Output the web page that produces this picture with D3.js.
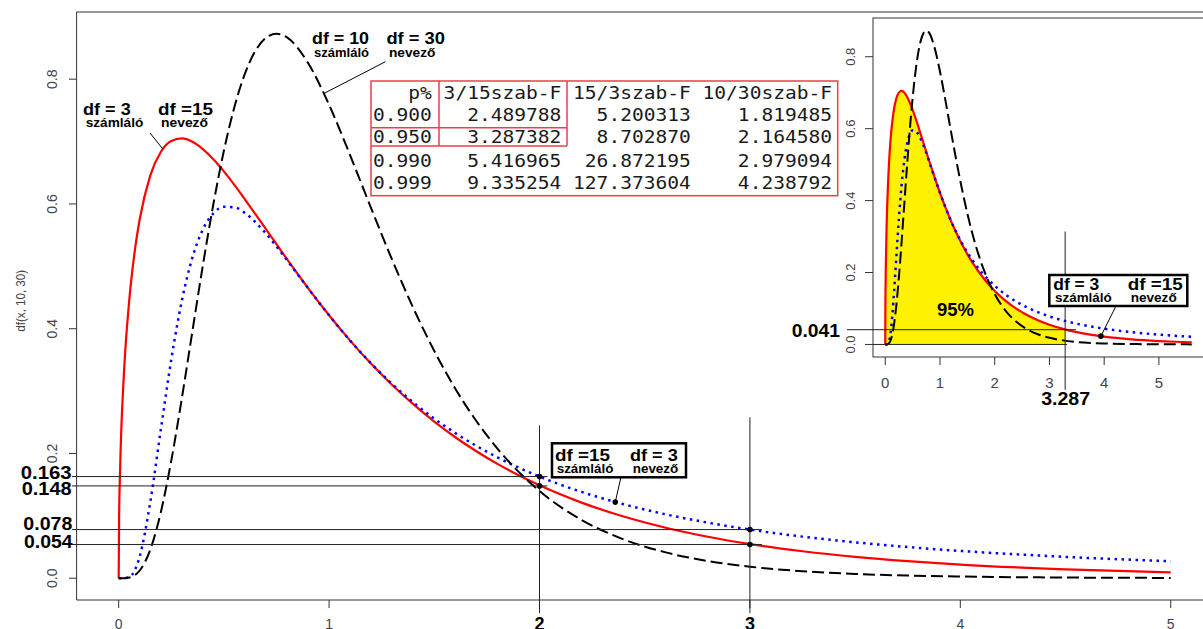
<!DOCTYPE html>
<html>
<head>
<meta charset="utf-8">
<script src="https://cdn.jsdelivr.net/npm/d3@7"></script>
<style>
  html, body { margin: 0; padding: 0; background: #fff; }
  svg { display: block; }
  .mono { white-space: pre; }
</style>
</head>
<body>
<svg id="chart" width="1203" height="629"></svg>
<script>
// F-eloszlások sűrűségfüggvényei: df(x, 3, 15), df(x, 15, 3), df(x, 10, 30)
const xValues = [0, 0.002, 0.005, 0.01, 0.025, 0.05, 0.075, 0.1, 0.15, 0.2, 0.25, 0.3, 0.35, 0.4, 0.45,
  0.5, 0.55, 0.6, 0.65, 0.7, 0.75, 0.8, 0.9, 1.0, 1.1, 1.2, 1.3, 1.4, 1.5, 1.6, 1.8, 2.0, 2.2, 2.4,
  2.6, 2.8, 3.0, 3.25, 3.5, 3.75, 4.0, 4.5, 5.0, 5.3, 5.6];
const dens3_15 = [0, 0.0969, 0.1524, 0.2136, 0.3288, 0.4446, 0.5209, 0.5754, 0.6455, 0.6833, 0.7009,
  0.7050, 0.6998, 0.6880, 0.6717, 0.6522, 0.6305, 0.6074, 0.5836, 0.5595, 0.5354, 0.5114, 0.4651,
  0.4215, 0.3809, 0.3437, 0.3098, 0.2790, 0.2511, 0.2260, 0.1833, 0.1489, 0.1212, 0.0989, 0.0810,
  0.0665, 0.0548, 0.0433, 0.0343, 0.0274, 0.0219, 0.0143, 0.0095, 0.0075, 0.0060];
const dens15_3 = [0, 0, 0, 0, 0.0001, 0.0020, 0.0118, 0.0349, 0.1217, 0.2375, 0.3508, 0.4446, 0.5135,
  0.5590, 0.5849, 0.5954, 0.5946, 0.5856, 0.5709, 0.5525, 0.5318, 0.5099, 0.4650, 0.4215, 0.3810,
  0.3443, 0.3113, 0.2819, 0.2558, 0.2327, 0.1938, 0.1630, 0.1384, 0.1186, 0.1024, 0.0891, 0.0780,
  0.0667, 0.0576, 0.0500, 0.0438, 0.0342, 0.0273, 0.0241, 0.0214];
const dens10_30 = [0, 0, 0, 0, 0.0001, 0.0011, 0.0046, 0.0124, 0.0457, 0.1053, 0.1885, 0.2881, 0.3951,
  0.5012, 0.5995, 0.6852, 0.7554, 0.8088, 0.8455, 0.8663, 0.8728, 0.8669, 0.8260, 0.7588, 0.6780,
  0.5930, 0.5102, 0.4333, 0.3643, 0.3038, 0.2078, 0.1400, 0.0935, 0.0623, 0.0414, 0.0276, 0.0185,
  0.0113, 0.0069, 0.0043, 0.0027, 0.0011, 0.0005, 0.0003, 0.0002];

// Kvantilis-táblázat
const probLevels = [0.900, 0.950, 0.990, 0.999];
const tableHeaders = ["p%", "3/15szab-F", "15/3szab-F", "10/30szab-F"];
const quant3_15 = [2.489788, 3.287382, 5.416965, 9.335254];
const quant15_3 = [5.200313, 8.702870, 26.872195, 127.373604];
const quant10_30 = [1.819485, 2.164580, 2.979094, 4.238792];

// Tengelyek
const mainXTicks = [0, 1, 2, 3, 4, 5];
const mainXBold = [2, 3];
const mainYTicks = [0, 0.2, 0.4, 0.6, 0.8];
const insetXTicks = [0, 1, 2, 3, 4, 5];
const insetYTicks = [0, 0.2, 0.4, 0.6, 0.8];

// Kiemelt sűrűségértékek x = 2 és x = 3 helyen
const markX = [2, 2, 3, 3];
const markY = [0.163, 0.148, 0.078, 0.054];
const markLabels = ["0.163", "0.148", "0.078", "0.054"];

// 95%-os kritikus érték a 3/15-ös F-eloszlásnál
const critX = [3.287];
const critY = [0.041];

const SANS = "'Liberation Sans', Arial, sans-serif";
const MONO = "'DejaVu Sans Mono', 'Liberation Mono', monospace";
const svg = d3.select("#chart");

// Skálák
const x = d3.scaleLinear().domain([-0.2, 5.2]).range([76.6, 1212.8]);
const y = d3.scaleLinear().domain([-0.0349, 0.9077]).range([600, 12]);
const xi = d3.scaleLinear().domain([-0.224, 5.824]).range([873, 1204]);
const yi = d3.scaleLinear().domain([-0.0349, 0.9077]).range([357, 18]);

function txt(g, s, px, py, o) {
  const t = g.append("text").attr("x", px).attr("y", py).text(s)
    .attr("font-family", o.mono ? MONO : SANS)
    .attr("font-size", o.size)
    .attr("font-weight", o.bold ? "bold" : null)
    .attr("text-anchor", o.anchor || "start")
    .attr("fill", o.fill || "#000");
  if (o.w) t.attr("textLength", o.w).attr("lengthAdjust", "spacingAndGlyphs");
  if (o.rot) t.attr("transform", `rotate(${o.rot},${px},${py})`);
  return t;
}

const series = (ys, xmax) => d3.zip(xValues, ys).filter(d => d[0] <= xmax + 1e-9);

function drawCurves(g, sx, sy, xmax) {
  const line = d3.line().x(d => sx(d[0])).y(d => sy(d[1])).curve(d3.curveMonotoneX);
  g.append("path").datum(series(dens3_15, xmax)).attr("d", line)
    .attr("fill", "none").attr("stroke", "#ff0000").attr("stroke-width", 2.2);
  g.append("path").datum(series(dens15_3, xmax)).attr("d", line)
    .attr("fill", "none").attr("stroke", "#0000ff").attr("stroke-width", 2.5)
    .attr("stroke-dasharray", "2.5,4.5");
  g.append("path").datum(series(dens10_30, xmax)).attr("d", line)
    .attr("fill", "none").attr("stroke", "#000").attr("stroke-width", 2)
    .attr("stroke-dasharray", "12,5");
}

// ---------- Fő ábra ----------
const main = svg.append("g");

// keret
main.append("path")
  .attr("d", `M${x.range()[1]},12 H76.6 V600 H${x.range()[1]}`)
  .attr("fill", "none").attr("stroke", "#333").attr("stroke-width", 1);

// x tengely
const xAxis = main.append("g");
mainXTicks.forEach(v => {
  xAxis.append("line").attr("x1", x(v)).attr("x2", x(v)).attr("y1", 600).attr("y2", 608)
    .attr("stroke", "#333");
  if (mainXBold.includes(v)) {
    txt(xAxis, String(v), x(v), 630, { size: 18, bold: true, anchor: "middle" });
  } else {
    txt(xAxis, String(v), x(v), 628.5, { size: 14, anchor: "middle", fill: "#444" });
  }
});

// y tengely
const yAxis = main.append("g");
mainYTicks.forEach(v => {
  yAxis.append("line").attr("x1", 69).attr("x2", 76.6).attr("y1", y(v)).attr("y2", y(v))
    .attr("stroke", "#333");
  txt(yAxis, v.toFixed(1), 57.3, y(v), { size: 14, anchor: "middle", fill: "#444", rot: -90 });
});
txt(main, "df(x, 10, 30)", 25, 300.8, { size: 12, anchor: "middle", fill: "#444", rot: -90, w: 61.7 });

drawCurves(main.append("g"), x, y, 5);

// segédvonalak a kiemelt értékekhez
const guides = main.append("g");
markX.forEach((mx, i) => {
  guides.append("line").attr("x1", 72).attr("x2", x(mx) + (mx === 2 ? 8 : 12))
    .attr("y1", y(markY[i])).attr("y2", y(markY[i]))
    .attr("stroke", "#222").attr("stroke-width", 1);
});
[[2, 0.245], [3, 0.258]].forEach(([vx, top]) => {
  guides.append("line").attr("x1", x(vx)).attr("x2", x(vx))
    .attr("y1", y(top)).attr("y2", y(-0.056))
    .attr("stroke", "#222").attr("stroke-width", 1);
});
markX.forEach((mx, i) => {
  guides.append("circle").attr("cx", x(mx)).attr("cy", y(markY[i])).attr("r", 2.8).attr("fill", "#000");
});
const markLabelPos = [[71.7, 479, 51], [71.7, 495, 50], [72.3, 530, 49], [72.7, 548.3, 48.7]];
markLabels.forEach((s, i) => {
  const [lx, ly, lw] = markLabelPos[i];
  txt(guides, s, lx, ly, { size: 18, bold: true, anchor: "end", w: lw });
});

// feliratok a görbékhez
const notes = main.append("g");
txt(notes, "df = 3", 83, 115, { size: 16, bold: true, w: 47.7 });
txt(notes, "számláló", 85.7, 127.3, { size: 12, bold: true, w: 57.6 });
txt(notes, "df =15", 158, 115, { size: 16, bold: true, w: 55 });
txt(notes, "nevező", 161, 127.3, { size: 12, bold: true, w: 47 });
notes.append("line").attr("x1", 150).attr("y1", 133).attr("x2", x(0.21)).attr("y2", y(0.688))
  .attr("stroke", "#000").attr("stroke-width", 1);

txt(notes, "df = 10", 312, 44.3, { size: 16, bold: true, w: 57 });
txt(notes, "számláló", 314, 56.7, { size: 12, bold: true, w: 55 });
txt(notes, "df = 30", 386.4, 44.3, { size: 16, bold: true, w: 58.6 });
txt(notes, "nevező", 389, 56.7, { size: 12, bold: true, w: 46.4 });
notes.append("line").attr("x1", 385.4).attr("y1", 61.7).attr("x2", x(0.975)).attr("y2", y(0.777))
  .attr("stroke", "#000").attr("stroke-width", 1);

// keretes felirat a 15/3-as görbéhez
notes.append("line").attr("x1", 621).attr("y1", 477).attr("x2", x(2.36)).attr("y2", y(0.122))
  .attr("stroke", "#000").attr("stroke-width", 1);
notes.append("circle").attr("cx", x(2.36)).attr("cy", y(0.122)).attr("r", 2.8).attr("fill", "#000");
notes.append("rect").attr("x", 552).attr("y", 443.3).attr("width", 134).attr("height", 34)
  .attr("fill", "#fff").attr("stroke", "#000").attr("stroke-width", 2.5);
txt(notes, "df =15", 555, 461, { size: 16, bold: true, w: 55 });
txt(notes, "df = 3", 677.7, 461, { size: 16, bold: true, anchor: "end", w: 47.7 });
txt(notes, "számláló", 556.7, 472.5, { size: 12, bold: true, w: 56.7 });
txt(notes, "nevező", 678.3, 472.5, { size: 12, bold: true, anchor: "end", w: 45.6 });

// ---------- Kvantilis-táblázat ----------
const table = main.append("g");
const TX0 = 373, CW = 11.77;
const rows = [
  tableHeaders[0].padStart(5) + " " + tableHeaders[1].padStart(10) + " " +
  tableHeaders[2].padStart(10) + " " + tableHeaders[3].padStart(11)
].concat(probLevels.map((p, i) =>
  p.toFixed(3) + " " + quant3_15[i].toFixed(6).padStart(10) + " " +
  quant15_3[i].toFixed(6).padStart(10) + " " + quant10_30[i].toFixed(6).padStart(11)));
const rowBase = [99, 120.7, 143.3, 167, 188.5];
rows.forEach((s, i) => {
  txt(table, s, TX0, rowBase[i], { size: 17, mono: true, fill: "#1a1a1a", w: CW * s.length })
    .attr("class", "mono");
});
const red = "#e8404a";
table.append("rect").attr("x", 371).attr("y", 81).attr("width", 466.7).attr("height", 114.7)
  .attr("fill", "none").attr("stroke", red).attr("stroke-width", 1.5);
[[439, 81, 439, 146], [567, 81, 567, 146], [371, 127.7, 567, 127.7], [371, 146, 567, 146]]
  .forEach(([a, b, c, d]) => table.append("line").attr("x1", a).attr("y1", b).attr("x2", c).attr("y2", d)
    .attr("stroke", red).attr("stroke-width", 1.5));

// ---------- Beágyazott ábra ----------
const inset = svg.append("g");
inset.append("rect").attr("x", 873).attr("y", 18).attr("width", 331).attr("height", 339)
  .attr("fill", "#fff").attr("stroke", "#333").attr("stroke-width", 1);

insetXTicks.forEach(v => {
  inset.append("line").attr("x1", xi(v)).attr("x2", xi(v)).attr("y1", 357).attr("y2", 365).attr("stroke", "#333");
  txt(inset, String(v), xi(v), 388, { size: 15, anchor: "middle", fill: "#444" });
});
insetYTicks.forEach(v => {
  inset.append("line").attr("x1", 865).attr("x2", 873).attr("y1", yi(v)).attr("y2", yi(v)).attr("stroke", "#333");
  txt(inset, v.toFixed(1), 855, yi(v), { size: 13, anchor: "middle", fill: "#444", rot: -90 });
});

// 95%-os terület
const fillPts = series(dens3_15, critX[0]).concat([[critX[0], critY[0]]]);
inset.append("path").datum(fillPts)
  .attr("d", d3.area().x(d => xi(d[0])).y0(yi(0)).y1(d => yi(d[1])).curve(d3.curveMonotoneX))
  .attr("fill", "#fff200").attr("stroke", "none");

drawCurves(inset.append("g"), xi, yi, 5.6);

inset.append("line").attr("x1", 873).attr("x2", xi(critX[0]) + 2).attr("y1", yi(0)).attr("y2", yi(0))
  .attr("stroke", "#222");
inset.append("line").attr("x1", 847).attr("x2", 1076).attr("y1", yi(critY[0])).attr("y2", yi(critY[0]))
  .attr("stroke", "#222");
inset.append("line").attr("x1", xi(critX[0])).attr("x2", xi(critX[0])).attr("y1", yi(0.314)).attr("y2", yi(-0.126))
  .attr("stroke", "#222");
txt(inset, critY[0].toFixed(3), 840, 336.7, { size: 18, bold: true, anchor: "end", w: 48.3 });
txt(inset, critX[0].toFixed(3), xi(critX[0]) + 0.5, 405, { size: 18, bold: true, anchor: "middle", w: 49 });
txt(inset, "95%", 937, 316, { size: 18, bold: true, w: 37 });

// keretes felirat a 3/15-ös görbéhez
inset.append("line").attr("x1", 1115.5).attr("y1", 307).attr("x2", xi(3.94)).attr("y2", yi(0.0231))
  .attr("stroke", "#000").attr("stroke-width", 1);
inset.append("circle").attr("cx", xi(3.94)).attr("cy", yi(0.0231)).attr("r", 2.8).attr("fill", "#000");
inset.append("rect").attr("x", 1049.3).attr("y", 275).attr("width", 138).attr("height", 31)
  .attr("fill", "#fff").attr("stroke", "#000").attr("stroke-width", 2.5);
txt(inset, "df = 3", 1053.3, 290, { size: 16, bold: true, w: 46 });
txt(inset, "df =15", 1182.7, 290, { size: 16, bold: true, anchor: "end", w: 55 });
txt(inset, "számláló", 1055, 301.7, { size: 12, bold: true, w: 56.7 });
txt(inset, "nevező", 1176.7, 301.7, { size: 12, bold: true, anchor: "end", w: 46 });
</script>
</body>
</html>
